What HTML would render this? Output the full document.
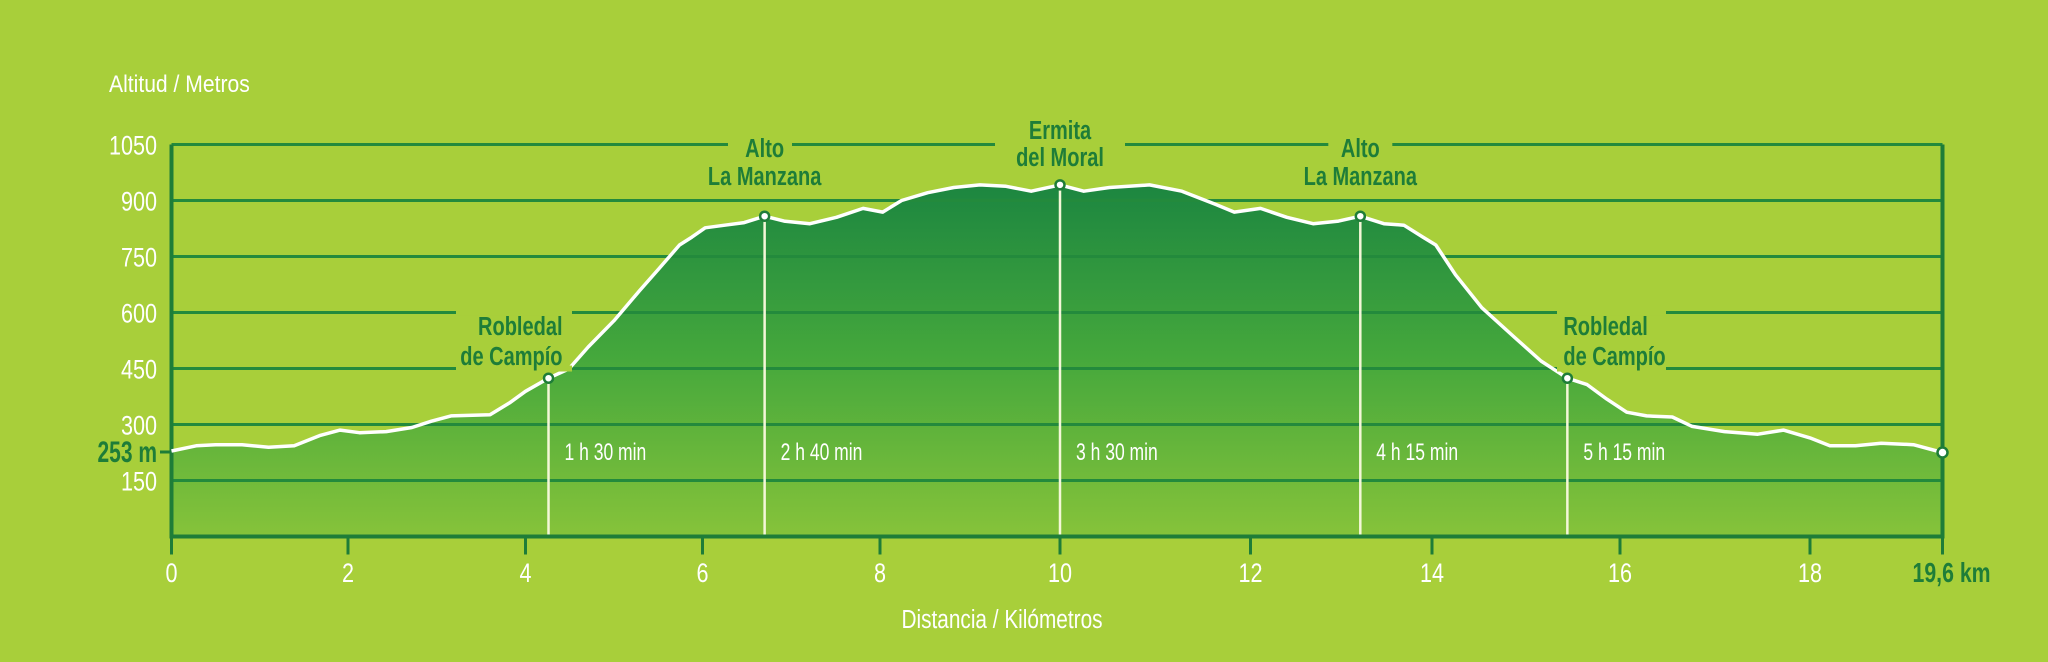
<!DOCTYPE html>
<html><head><meta charset="utf-8"><style>
html,body{margin:0;padding:0;background:#a8cf3a;}
svg{display:block;}
text{font-family:"Liberation Sans",sans-serif;}
</style></head>
<body>
<svg id="chart" width="2048" height="662" viewBox="0 0 2048 662" xmlns="http://www.w3.org/2000/svg">
<defs>
<linearGradient id="fillg" gradientUnits="userSpaceOnUse" x1="0" y1="180" x2="0" y2="536">
<stop offset="0" stop-color="#1b8540"/><stop offset="0.5" stop-color="#45a83c"/><stop offset="1" stop-color="#86c33a"/>
</linearGradient>
</defs>
<rect width="2048" height="662" fill="#a8cf3a"/>
<g id="area"></g><g id="grid"></g><g id="marks"></g><g id="labels"></g>
</svg>
<script>
const kmTicks=[0,2,4,6,8,10,12,14,16,18,19.6];
const kmTickPx=[171.5,348,525.5,702.5,880,1060,1250.5,1432,1620,1810,1942.5];
const yTicks=[150,300,450,600,750,900,1050];
const distKm=[0,0.28,0.5,0.8,1.1,1.39,1.69,1.91,2.13,2.43,2.72,2.94,3.16,3.6,3.82,4,4.26,4.49,4.71,5.0,5.29,5.51,5.74,5.88,6.03,6.25,6.47,6.7,6.92,7.21,7.51,7.81,8.03,8.24,8.53,8.82,9.11,9.4,9.68,10,10.25,10.52,10.94,11.28,11.63,11.83,12.11,12.4,12.69,12.97,13.21,13.47,13.69,13.9,14.04,14.25,14.53,14.88,15.16,15.44,15.65,15.86,16.07,16.28,16.55,16.76,17.1,17.45,17.72,18,18.24,18.55,18.86,19.25,19.6];
const elev=[229,243,246,246,239,243,271,285,278,281,292,309,323,326,358,389,424,449,508,578,659,718,781,802,827,834,841,858,845,838,855,879,869,900,921,935,942,938,925,942,925,935,942,925,890,869,879,855,838,845,858,838,834,802,781,701,613,533,470,424,407,368,333,323,320,295,281,274,285,264,243,243,250,246,225];
const waypointNames=[["Robledal","de Campío"],["Alto","La Manzana"],["Ermita","del Moral"],["Alto","La Manzana"],["Robledal","de Campío"]];
const waypointKm=[4.26,6.7,10,13.21,15.44];
const waypointElev=[424,858,942,858,424];
const waypointTimes=["1 h 30 min","2 h 40 min","3 h 30 min","4 h 15 min","5 h 15 min"];

const NS="http://www.w3.org/2000/svg";
function X(k){for(let i=0;i<kmTicks.length-1;i++){if(k<=kmTicks[i+1]||i==kmTicks.length-2){const t=(k-kmTicks[i])/(kmTicks[i+1]-kmTicks[i]);return kmTickPx[i]+t*(kmTickPx[i+1]-kmTickPx[i]);}}}
function Y(v){return 536.5-v*0.3733;}
function el(tag,attrs,parent){const e=document.createElementNS(NS,tag);for(const k in attrs)e.setAttribute(k,attrs[k]);parent.appendChild(e);return e;}
function txt(str,x,y,size,fill,anchor,bold,parent,sx){const t=el('text',{transform:`translate(${x},${y}) scale(${sx||1},1)`,'font-size':size,fill:fill,'text-anchor':anchor,'font-weight':bold?'bold':'normal'},parent);t.textContent=str;return t;}
const gA=document.getElementById('area'),gG=document.getElementById('grid'),gM=document.getElementById('marks'),gL=document.getElementById('labels');
const x0=X(0),xe=X(19.6),yb=Y(0);
const G='#1e7d38';

let d=`M${x0},${yb}`;distKm.forEach((k,i)=>d+=` L${X(k).toFixed(1)},${Y(elev[i]).toFixed(1)}`);d+=` L${xe},${yb}Z`;
const area=el('path',{d:d,fill:'url(#fillg)'},gA);



yTicks.forEach(v=>{const l=el('line',{x1:x0,x2:xe,y1:Y(v),y2:Y(v),stroke:'#238a3c','stroke-width':3},gG);


const t=txt(String(v),157,Y(v)+10,27,'#fff','end',false,gL,0.8);

});

const ax=el('path',{d:`M${x0},${Y(1050)} V${yb} H${xe} V${Y(1050)}`,fill:'none',stroke:G,'stroke-width':4},gG);


kmTicks.forEach((k,i)=>{const l=el('line',{x1:X(k),x2:X(k),y1:yb,y2:yb+18,stroke:G,'stroke-width':3},gG);


const last=i==kmTicks.length-1;
const t=txt(last?'19,6 km':String(k),last?X(k)-30:X(k),582,last?28:27,last?G:'#fff',last?'start':'middle',last,gL,last?0.76:0.8);

});

const ln=el('polyline',{points:distKm.map((k,i)=>X(k).toFixed(1)+','+Y(elev[i]).toFixed(1)).join(' '),fill:'none',stroke:'#fff','stroke-width':3.5,'stroke-linejoin':'round'},gM);



const st=el('line',{x1:160,x2:170,y1:452,y2:452,stroke:G,'stroke-width':3},gG);


const sl=txt('253 m',157,462,30,G,'end',true,gL,0.7);



const layout=[["end",14,335,365,456,572],["middle",0,157,185,728,792],["middle",0,139,166,995,1125],["middle",0,157,185,0,0],["start",-4,335,365,1557,1666]];
waypointKm.forEach((k,i)=>{const x=X(k),y=Y(waypointElev[i]);
const v=el('line',{x1:x,x2:x,y1:y,y2:yb-2,stroke:'#f4f7d8','stroke-width':2.5},gM);


const c=el('circle',{cx:x,cy:y,r:4.5,fill:'#fff',stroke:G,'stroke-width':2.5},gM);


const tt=txt(waypointTimes[i],x+16,460,24,'#fff','start',false,gL,0.73);


const L=layout[i];
let bx0=L[4],bx1=L[5];
if(i==3){bx0=x-32;bx1=x+32;}
const lineY=(i==0||i==4)?Y(600):Y(1050);
const bg=el('rect',{x:bx0,y:lineY-3,width:bx1-bx0,height:6,fill:'#a8cf3a'},gL);


if(i==0||i==4){const bg2=el('rect',{x:bx0,y:Y(450)-3,width:bx1-bx0,height:6,fill:'#a8cf3a'},gL);

}
const n1=txt(waypointNames[i][0],x+L[1],L[2],26,G,L[0],true,gL,0.77);


const n2=txt(waypointNames[i][1],x+L[1],L[3],26,G,L[0],true,gL,0.77);

});

const ec=el('circle',{cx:xe,cy:Y(225),r:5,fill:'#fff',stroke:G,'stroke-width':2.5},gM);



const yt=txt('Altitud / Metros',109,92,24,'#fff','start',false,gL,0.88);


const xt=txt('Distancia / Kilómetros',1002,628,26,'#fff','middle',false,gL,0.8);


</script>
</body></html>
